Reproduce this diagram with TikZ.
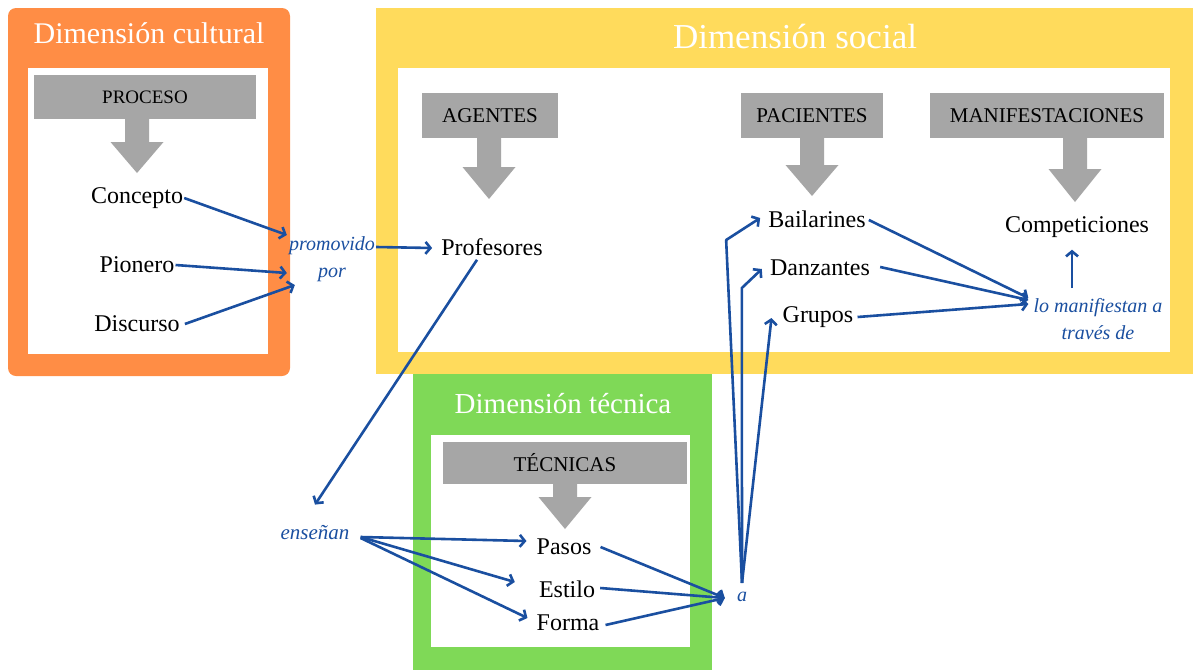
\documentclass[tikz,border=0pt]{standalone}
\usepackage{fontspec}
\setmainfont{Liberation Serif}
\usetikzlibrary{arrows.meta,calc}

\definecolor{dimorange}{HTML}{FF8D45}
\definecolor{dimyellow}{HTML}{FFDB5C}
\definecolor{dimgreen}{HTML}{7FD957}
\definecolor{catgray}{HTML}{A6A6A6}
\definecolor{linkblue}{HTML}{1A4FA0}

% block arrow under a category box: x, top, start of head, tip
\newcommand\catarrow[4]{%
  \fill[catgray] ({#1-12},#2) -- ({#1+12},#2) -- ({#1+12},#3) -- ({#1+26.5},#3)
    -- (#1,#4) -- ({#1-26.5},#3) -- ({#1-12},#3) -- cycle;}

\begin{document}
\begin{tikzpicture}[x=1pt,y=-1pt,
  every node/.style={inner sep=1pt},
  lbl/.style={font=\fontsize{24}{28}\selectfont},
  verb/.style={font=\fontsize{20}{27}\selectfont\itshape, text=linkblue, align=center},
  dimtitle/.style={text=white, anchor=base},
  cat/.style={fill=catgray, inner sep=0pt, font=\fontsize{21}{24}\selectfont},
  link/.style={draw=linkblue, line width=2.6pt, line join=round,
    -{Straight Barb[length=5pt,width=12pt]}}
]
\useasboundingbox (0,0) rectangle (1195,670);

% dimension panels
\fill[dimgreen] (413,370) rectangle (712,670);
\fill[white] (431,435) rectangle (690,647);
\fill[dimorange, rounded corners=8pt] (8,8) rectangle (290,376);
\fill[white] (28,68) rectangle (268,354);
\fill[dimyellow] (376,8) rectangle (1193,374);
\fill[white] (398,68) rectangle (1170,352);

\node[dimtitle, font=\fontsize{30}{34}\selectfont] (tcult) at (149,43) {Dimensión cultural};
\node[dimtitle, font=\fontsize{35}{40}\selectfont] (tsoc) at (795,48) {Dimensión social};
\node[dimtitle, font=\fontsize{29}{33}\selectfont] (ttec) at (563,413) {Dimensión técnica};

% category boxes and their block arrows
\node[cat, minimum width=222pt, minimum height=44pt, font=\fontsize{19}{22}\selectfont] (proceso) at (145,97) {PROCESO};
\node[cat, minimum width=136pt, minimum height=45pt] (agentes) at (490,115.5) {AGENTES};
\node[cat, minimum width=142pt, minimum height=45pt] (pacientes) at (812,115.5) {PACIENTES};
\node[cat, minimum width=234pt, minimum height=45pt] (manif) at (1047,115.5) {MANIFESTACIONES};
\node[cat, minimum width=244pt, minimum height=42pt] (tecnicas) at (565,463) {TÉCNICAS};

\catarrow{137}{118}{142}{173}
\catarrow{489}{137}{167}{199}
\catarrow{812}{137}{165}{196}
\catarrow{1075}{137}{169}{202}
\catarrow{565}{483}{497}{529}

% concepts
\node[lbl] (concepto) at (137,198) {Concepto};
\node[lbl] (pionero) at (137,265) {Pionero};
\node[lbl] (discurso) at (137,324) {Discurso};
\node[lbl] (prof) at (492,247) {Profesores};
\node[lbl] (bail) at (817,219) {Bailarines};
\node[lbl] (danz) at (820,268) {Danzantes};
\node[lbl] (grup) at (818,317) {Grupos};
\node[lbl] (comp) at (1077,227) {Competiciones};
\node[lbl] (pasos) at (564,547) {Pasos};
\node[lbl] (estilo) at (567,589) {Estilo};
\node[lbl] (forma) at (568,623) {Forma};

% linking phrases
\node[verb] (promo) at (332,259) {promovido\\por};
\node[verb, font=\fontsize{21}{27}\selectfont\itshape] (ens) at (315,533) {enseñan};
\node[verb] (aa) at (742,597) {a};
\node[verb] (lma) at (1098,319) {lo manifiestan a\\través de};

% connectors
\draw[link] (concepto.east) -- ($(promo.west)+(-1,-24)$);
\draw[link] (pionero.east) -- ($(promo.west)+(-1,14)$);
\draw[link] ($(discurso.east)+(4,0)$) -- ($(promo.west)+(7,26)$);
\draw[link] ($(promo.east)+(0,-12)$) -- ($(prof.west)+(-8,1)$);
\draw[link] ($(prof.south)+(-15,3)$) -- ($(ens.north)+(0,-20)$);

\draw[link] ($(ens.east)+(10,4)$) -- ($(pasos.west)+(-9,-6)$);
\draw[link] ($(ens.east)+(10,4)$) -- ($(estilo.west)+(-23,-7)$);
\draw[link] ($(ens.east)+(10,5)$) -- ($(forma.west)+(-8,-5)$);

\draw[link] ($(pasos.east)+(8,0)$) -- ($(aa.west)+(-11,1)$);
\draw[link] ($(estilo.east)+(4,-1)$) -- ($(aa.west)+(-11,1)$);
\draw[link] ($(forma.east)+(5,2)$) -- ($(aa.west)+(-11,1)$);

\draw[link] ($(aa.north)+(0,-8)$) -- ($(bail.west)+(-41,21)$) -- ($(bail.west)+(-7,-1)$);
\draw[link] ($(aa.north)+(0,-8)$) -- ($(danz.west)+(-27,20)$) -- ($(danz.west)+(-7,1)$);
\draw[link] ($(aa.north)+(0,-8)$) -- ($(grup.west)+(-10,1)$);

\draw[link] ($(bail.east)+(2,1)$) -- ($(lma.west)+(-4,-21)$);
\draw[link] ($(danz.east)+(9,-1)$) -- ($(lma.west)+(-4,-19)$);
\draw[link] ($(grup.east)+(3,0)$) -- ($(lma.west)+(-4,-15)$);
\draw[link] ($(lma.north)+(-26,-9)$) -- ($(comp.south)+(-5,11)$);
\end{tikzpicture}
\end{document}
